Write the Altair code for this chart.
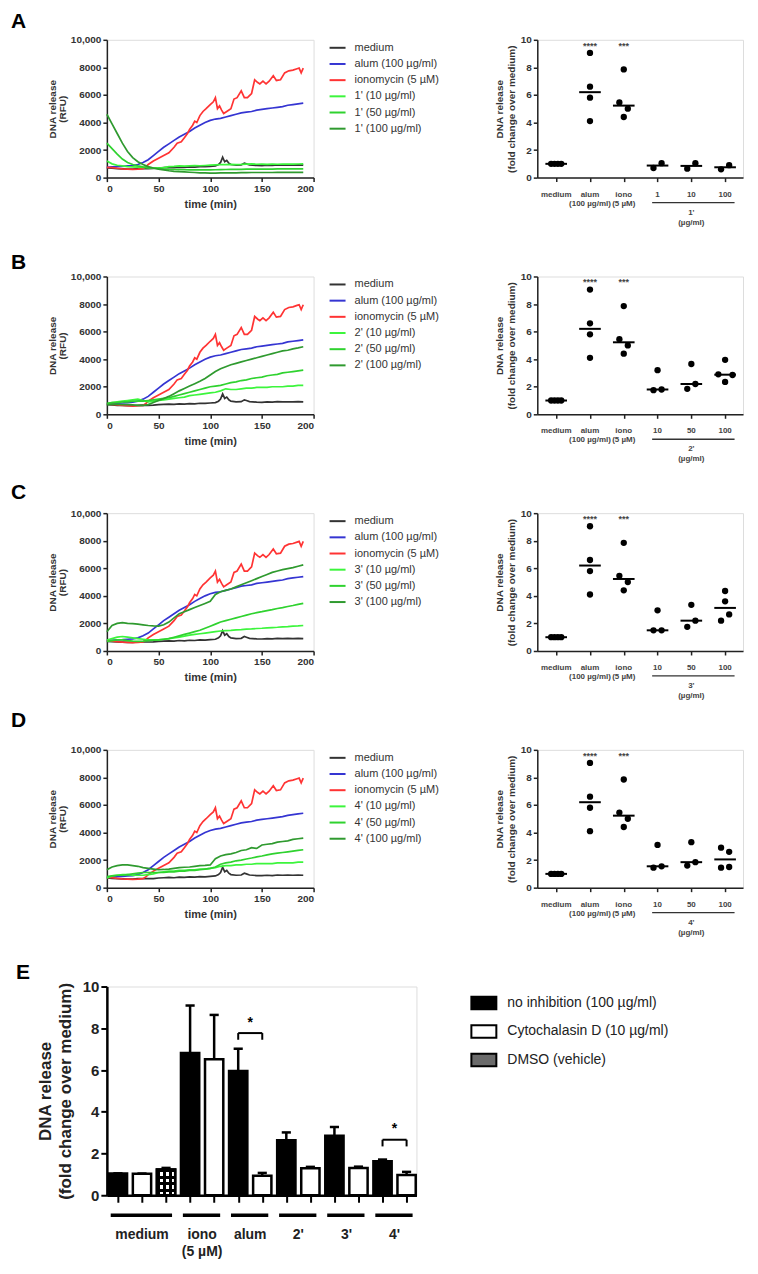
import altair as alt
import pandas as pd

FONT = "Liberation Sans"

# ---------------- time-course data (RFU) ----------------
T = list(range(0, 195, 5))

MEDIUM_T = [0, 5, 10, 15, 20, 25, 30, 35, 40, 45, 50, 55, 60, 65, 70, 75, 80, 85, 90, 95, 100, 105,
            108, 110, 112, 114, 116, 118, 120, 125, 130, 133, 135, 138, 145, 150, 155, 160, 165, 170,
            175, 180, 185, 190]
MEDIUM_V = [700, 680, 650, 640, 620, 620, 650, 660, 650, 660, 700, 720, 740, 720, 760, 740, 780, 760,
            800, 790, 820, 850, 950, 1100, 1480, 1150, 1250, 1050, 950, 900, 920, 1050, 1000, 920,
            880, 870, 900, 880, 920, 900, 910, 900, 920, 900]

ALUM_V = [750, 780, 800, 820, 850, 880, 950, 1100, 1300, 1600, 1900, 2200, 2450, 2700, 2950, 3150,
          3350, 3600, 3800, 4000, 4150, 4250, 4300, 4400, 4500, 4600, 4700, 4750, 4800, 4900, 4950,
          5000, 5050, 5100, 5150, 5250, 5300, 5350, 5400]

IONO_T = [0, 5, 10, 15, 20, 25, 30, 35, 38, 40, 45, 50, 55, 60, 65, 68, 72, 75, 78, 80, 83, 85, 87,
          90, 93, 96, 100, 103, 105, 107, 109, 111, 113, 116, 120, 123, 126, 130, 133, 136, 140, 143,
          146, 148, 151, 154, 157, 161, 164, 168, 172, 176, 180, 184, 186, 188, 190]
IONO_V = [750, 720, 680, 640, 620, 600, 620, 650, 800, 950, 1200, 1400, 1600, 1800, 2200, 2500, 2600,
          2900, 3200, 3500, 3800, 4100, 4000, 4500, 4800, 5000, 5300, 5500, 5800, 5000, 5200, 4900,
          4650, 4800, 5000, 5700, 5800, 6300, 5800, 5800, 6100, 7100, 6900, 6800, 7000, 6800, 7000,
          7400, 7050, 7100, 7600, 7750, 7800, 7900, 7950, 7600, 7950]

C1_10 = [1200, 1000, 900, 850, 800, 780, 760, 740, 720, 710, 700, 720, 800, 820, 850, 830, 850, 870,
         860, 880, 900, 920, 940, 950, 960, 950, 960, 980, 1000, 970, 980, 960, 980, 970, 980, 990,
         980, 990, 1000]
C1_50 = [2500, 2100, 1700, 1350, 1100, 950, 850, 780, 720, 680, 650, 620, 600, 590, 580, 570, 560,
         560, 560, 560, 560, 570, 580, 590, 600, 600, 600, 610, 620, 620, 620, 620, 620, 630, 630,
         630, 630, 630, 630]
C1_100 = [4600, 3900, 3200, 2500, 1900, 1450, 1150, 950, 800, 700, 620, 560, 500, 460, 430, 410, 390,
          370, 350, 340, 330, 330, 340, 350, 350, 350, 360, 360, 370, 370, 370, 370, 370, 380, 380,
          380, 380, 380, 380]

C2_10 = [750, 850, 900, 950, 1000, 1050, 1100, 1000, 900, 950, 1000, 1050, 1100, 1150, 1200, 1250,
         1350, 1400, 1450, 1500, 1550, 1600, 1700, 1850, 1800, 1800, 1850, 1900, 1900, 1950, 1950,
         1950, 2000, 2000, 2000, 2050, 2050, 2100, 2100]
C2_50 = [800, 850, 850, 900, 900, 950, 950, 950, 1000, 1050, 1100, 1150, 1200, 1300, 1400, 1500, 1600,
         1700, 1800, 1900, 2000, 2050, 2100, 2200, 2300, 2350, 2450, 2500, 2600, 2650, 2700, 2800,
         2850, 2900, 3000, 3050, 3100, 3150, 3200]
C2_100 = [700, 720, 720, 700, 700, 680, 650, 650, 700, 850, 1000, 1150, 1300, 1500, 1700, 1880, 2050,
          2220, 2400, 2600, 2850, 3100, 3300, 3450, 3600, 3700, 3800, 3900, 4000, 4100, 4200, 4300,
          4400, 4500, 4600, 4650, 4750, 4820, 4900]

C3_10 = [800, 900, 1000, 1050, 1000, 950, 900, 850, 800, 800, 800, 850, 900, 950, 1000, 1080, 1150,
         1200, 1250, 1300, 1350, 1400, 1450, 1480, 1500, 1530, 1550, 1580, 1600, 1630, 1650, 1680,
         1700, 1720, 1750, 1770, 1800, 1820, 1850]
C3_50 = [700, 750, 800, 800, 750, 720, 700, 720, 750, 780, 800, 850, 900, 1000, 1100, 1200, 1300, 1400,
         1500, 1650, 1800, 1950, 2100, 2200, 2300, 2400, 2500, 2600, 2700, 2780, 2850, 2930, 3000,
         3080, 3150, 3230, 3300, 3380, 3450]
C3_100 = [1400, 1850, 2000, 2050, 2000, 1980, 1950, 1900, 1850, 1820, 1800, 1900, 2100, 2400, 2700,
          2850, 3000, 3150, 3300, 3450, 3600, 4100, 4300, 4400, 4500, 4650, 4800, 4950, 5100, 5250,
          5400, 5550, 5700, 5800, 5900, 5980, 6050, 6150, 6250]

C4_10 = [700, 850, 900, 950, 950, 900, 900, 900, 950, 1000, 1100, 1150, 1200, 1200, 1250, 1250, 1300,
         1300, 1350, 1350, 1400, 1450, 1550, 1600, 1600, 1650, 1650, 1700, 1700, 1750, 1750, 1750,
         1750, 1800, 1800, 1800, 1800, 1850, 1850]
C4_50 = [800, 850, 900, 900, 950, 1000, 1050, 1100, 1100, 1100, 1100, 1100, 1150, 1150, 1200, 1200,
         1250, 1250, 1300, 1350, 1400, 1500, 1700, 1800, 1850, 1950, 2000, 2080, 2150, 2230, 2300,
         2380, 2450, 2500, 2550, 2600, 2650, 2700, 2750]
C4_100 = [1300, 1500, 1600, 1650, 1650, 1600, 1550, 1450, 1400, 1350, 1300, 1320, 1350, 1400, 1450,
          1480, 1500, 1550, 1600, 1620, 1650, 2100, 2300, 2400, 2450, 2550, 2700, 2750, 2900, 2850,
          3100, 3150, 3200, 3300, 3350, 3400, 3500, 3550, 3600]

LINE_COLORS = ["#333333", "#3535d2", "#ff3333", "#3cf53c", "#2fd22f", "#2f9a2f"]

# ---------------- dot-plot data (fold change) ----------------
MED_DOTS = [1.0, 1.0, 1.0, 1.0]
MED_OFF = [-0.15, -0.05, 0.05, 0.15]
ALUM_DOTS = [9.05, 6.6, 5.8, 4.1]
ALUM_OFF = [0, 0, 0, 0]
IONO_DOTS = [7.85, 5.45, 5.0, 4.4]
IONO_OFF = [0, -0.13, 0.12, 0]

A_DOTS = [[0.7, 1.05], [0.65, 1.05], [0.6, 0.9]]
A_OFF = [[-0.12, 0.12], [-0.12, 0.12], [-0.12, 0.12]]
B_DOTS = [[3.2, 1.75, 1.8], [3.65, 1.85, 2.2], [3.95, 2.9, 2.85, 2.35]]
B_OFF = [[0, -0.12, 0.12], [0, -0.12, 0.12], [0, -0.2, 0.22, 0]]
C_DOTS = [[2.95, 1.5, 1.5], [3.35, 1.75, 2.2], [4.35, 3.6, 2.2, 2.65]]
C_OFF = [[0, -0.12, 0.12], [0, -0.12, 0.12], [0, 0, -0.12, 0.12]]
D_DOTS = [[3.1, 1.45, 1.55], [3.3, 1.6, 1.85], [2.9, 2.6, 1.45, 1.5]]
D_OFF = [[0, -0.12, 0.12], [0, -0.12, 0.12], [-0.12, 0.12, -0.12, 0.12]]

# ---------------- bar data (panel E) ----------------
E_TREATS = ["no inhibition (100 µg/ml)", "Cytochalasin D (10 µg/ml)", "DMSO (vehicle)"]
E_SLOT = list(range(13))
E_TREAT = [0, 1, 2, 0, 1, 0, 1, 0, 1, 0, 1, 0, 1]
E_MEAN = [1.04, 1.03, 1.23, 6.81, 6.52, 5.95, 0.93, 2.63, 1.29, 2.85, 1.31, 1.63, 0.97]
E_TOP = [1.05, 1.04, 1.31, 9.09, 8.64, 7.02, 1.07, 3.01, 1.36, 3.27, 1.37, 1.71, 1.12]
E_GROUPS = ["medium", "iono", "alum", "2'", "3'", "4'"]
E_GROUP_SUB = ["", "(5 µM)", "", "", "", ""]
E_G_FIRST = [0, 3, 5, 7, 9, 11]
E_G_LAST = [2, 4, 6, 8, 10, 12]
BR_A = [5, 11]
BR_B = [6, 12]
BR_Y = [7.77, 2.66]
BR_LOW = [7.45, 2.34]
BR_STAR = [8.25, 3.15]

LW, LH = 207, 138
DW, DH = 206, 138
EW, EH = 310, 209


def axis_style(**kw):
    base = dict(labelFont=FONT, titleFont=FONT, labelFontWeight="bold", titleFontWeight="bold",
                labelColor="#333333", titleColor="#333333", domainColor="#222222",
                tickColor="#222222", domainWidth=1.5, tickWidth=1.5, tickSize=4, labelFontSize=10,
                titleFontSize=10, grid=False, labelPadding=2)
    base.update(kw)
    return alt.Axis(**base)


def letter_layer(letter, x, y):
    return alt.Chart(pd.DataFrame({"l": [letter]})).mark_text(
        align="left", baseline="top", fontSize=21, fontWeight="bold", font=FONT, color="black"
    ).encode(x=alt.value(x), y=alt.value(y), text="l:N")


def line_panel(letter, letter_y, comp, series):
    names = ["medium", "alum (100 µg/ml)", "ionomycin (5 µM)",
             f"{comp} (10 µg/ml)", f"{comp} (50 µg/ml)", f"{comp} (100 µg/ml)"]
    rows = []
    for t, v in zip(MEDIUM_T, MEDIUM_V):
        rows.append({"t": t, "v": v, "s": names[0]})
    for t, v in zip(T, ALUM_V):
        rows.append({"t": t, "v": v, "s": names[1]})
    for t, v in zip(IONO_T, IONO_V):
        rows.append({"t": t, "v": v, "s": names[2]})
    for k, ser in enumerate(series):
        for t, v in zip(T, ser):
            rows.append({"t": t, "v": v, "s": names[3 + k]})
    df = pd.DataFrame(rows)
    lines = alt.Chart(df).mark_line(strokeWidth=1.7).encode(
        x=alt.X("t:Q", scale=alt.Scale(domain=[0, 200], nice=False),
                axis=axis_style(values=[0, 50, 100, 150, 200], title="time (min)",
                                titleFontSize=11, titlePadding=5)),
        y=alt.Y("v:Q", scale=alt.Scale(domain=[0, 10000], nice=False),
                axis=axis_style(values=[0, 2000, 4000, 6000, 8000, 10000],
                                labelExpr="datum.value == 10000 ? '10,000' : '' + datum.value",
                                title=["DNA release", "(RFU)"], titleLineHeight=10,
                                titlePadding=3)),
        color=alt.Color("s:N", scale=alt.Scale(domain=names, range=LINE_COLORS),
                        legend=alt.Legend(orient="none", legendX=222, legendY=-1, title=None,
                                          symbolType="stroke", symbolSize=256,
                                          symbolStrokeWidth=2, labelFontSize=11, labelFont=FONT,
                                          labelColor="#333333", labelOffset=8, rowPadding=2.2,
                                          padding=0, labelLimit=300)),
    )
    return alt.layer(lines, letter_layer(letter, -96, letter_y)).properties(width=LW, height=LH)


def dot_panel(comp, first_labels, dots, offs):
    labels1 = ["medium", "alum", "iono"] + first_labels
    labels2 = ["", "(100 µg/ml)", "(5 µM)", "", "", ""]
    values = [MED_DOTS, ALUM_DOTS, IONO_DOTS] + dots
    offsets = [MED_OFF, ALUM_OFF, IONO_OFF] + offs
    rows = []
    for g, (vs, os) in enumerate(zip(values, offsets)):
        for v, o in zip(vs, os):
            rows.append({"g": g, "val": v, "x": g + o})
    df = pd.DataFrame(rows)
    xs = alt.Scale(domain=[-0.56, 5.53], nice=False, zero=False)
    ys = alt.Scale(domain=[0, 10], nice=False)
    ax_x = axis_style(values=[0, 1, 2, 3, 4, 5], labels=False, title=None, tickSize=4)
    ax_y = axis_style(values=[0, 2, 4, 6, 8, 10], title=["DNA release", "(fold change over medium)"],
                      titleLineHeight=12, titlePadding=4)

    def X(f):
        return alt.X(f, scale=xs, axis=ax_x)

    def Y(f):
        return alt.Y(f, scale=ys, axis=ax_y)

    pts = alt.Chart(df).mark_circle(size=40, color="black", opacity=1).encode(
        x=X("x:Q"), y=Y("val:Q"))
    med = alt.Chart(df).transform_aggregate(
        m="median(val)", groupby=["g"]
    ).transform_calculate(a="datum.g - 0.32", b="datum.g + 0.32").mark_rule(
        color="black", strokeWidth=2
    ).encode(x=X("a:Q"), x2="b:Q", y=Y("m:Q"))
    lab_df = pd.DataFrame({"g": list(range(6)), "l1": labels1, "l2": labels2})
    txt = dict(fontSize=8, fontWeight="bold", font=FONT, color="#444444", baseline="middle")
    lab1 = alt.Chart(lab_df).mark_text(**txt).encode(
        x=X("g:Q"), y=alt.value(DH + 17), text="l1:N")
    lab2 = alt.Chart(lab_df).mark_text(**txt).encode(
        x=X("g:Q"), y=alt.value(DH + 26), text="l2:N")
    star_df = pd.DataFrame({"g": [1, 2], "s": ["****", "***"]})
    stars = alt.Chart(star_df).mark_text(fontSize=9, fontWeight="bold", font=FONT,
                                         color="#444444", baseline="middle").encode(
        x=X("g:Q"), y=alt.value(6), text="s:N")
    span_df = pd.DataFrame({"first": [3], "last": [5], "mid": [4], "n1": [comp],
                            "n2": ["(µg/ml)"]})
    under = alt.Chart(span_df).transform_calculate(
        a="datum.first - 0.16", b="datum.last + 0.28"
    ).mark_rule(color="#333333", strokeWidth=1.3).encode(
        x=X("a:Q"), x2="b:Q", y=alt.value(DH + 25))
    cn1 = alt.Chart(span_df).mark_text(**txt).encode(
        x=X("mid:Q"), y=alt.value(DH + 35), text="n1:N")
    cn2 = alt.Chart(span_df).mark_text(**txt).encode(
        x=X("mid:Q"), y=alt.value(DH + 45), text="n2:N")
    return alt.layer(pts, med, lab1, lab2, stars, under, cn1, cn2).properties(width=DW, height=DH)


def stripes(n, frac, vertical):
    stops = []
    clear = "rgba(0,0,0,0)"
    for i in range(n):
        s = i / n
        m = s + frac / n
        e = (i + 1) / n
        stops += [alt.GradientStop(offset=s, color="black"),
                  alt.GradientStop(offset=m, color="black"),
                  alt.GradientStop(offset=m, color=clear),
                  alt.GradientStop(offset=e, color=clear)]
    if vertical:
        return alt.Gradient(gradient="linear", stops=stops, x1=0, x2=0, y1=0, y2=1)
    return alt.Gradient(gradient="linear", stops=stops, x1=0, x2=1, y1=0, y2=0)


def bar_panel():
    df = pd.DataFrame({"slot": E_SLOT, "treat": [E_TREATS[i] for i in E_TREAT],
                       "mean": E_MEAN, "top": E_TOP})
    xs = alt.Scale(domain=[-0.46, 12.41], nice=False, zero=False)
    ys = alt.Scale(domain=[0, 10], nice=False)
    ax_x = axis_style(values=E_SLOT, labels=False, title=None, tickSize=7, domainWidth=2.5,
                      tickWidth=2, domainColor="black", tickColor="black")
    ax_y = axis_style(values=[0, 2, 4, 6, 8, 10], labelFontSize=15, titleFontSize=17,
                      title=["DNA release", "(fold change over medium)"], titleLineHeight=20,
                      titlePadding=8, domainWidth=2.5, tickWidth=2, tickSize=6,
                      domainColor="black", tickColor="black", labelColor="#222222",
                      titleColor="#222222")

    def X(f):
        return alt.X(f, scale=xs, axis=ax_x)

    def Y(f):
        return alt.Y(f, scale=ys, axis=ax_y)

    base = alt.Chart(df).transform_calculate(a="datum.slot - 0.38", b="datum.slot + 0.38")
    bars = base.mark_bar(stroke="black", strokeWidth=2.5).encode(
        x=X("a:Q"), x2="b:Q", y=Y("mean:Q"), y2=alt.datum(0),
        fill=alt.Fill("treat:N", scale=alt.Scale(domain=E_TREATS, range=["black", "white", "#6a6a6a"]),
                      legend=alt.Legend(orient="none", legendX=364, legendY=3, title=None,
                                        symbolType="M-1,-0.5H1V0.5H-1Z", symbolSize=625,
                                        symbolStrokeColor="black", symbolStrokeWidth=2,
                                        labelFontSize=14, labelFont=FONT, labelColor="#222222",
                                        labelOffset=10, rowPadding=4.5, padding=0,
                                        labelLimit=300)),
    )
    dmso = base.transform_filter(alt.datum.treat == E_TREATS[2])
    d_white = dmso.mark_bar(fill="white", strokeWidth=0).encode(
        x=X("a:Q"), x2="b:Q", y=Y("mean:Q"), y2=alt.datum(0))
    d_v = dmso.mark_bar(fill=stripes(3, 0.45, False), strokeWidth=0).encode(
        x=X("a:Q"), x2="b:Q", y=Y("mean:Q"), y2=alt.datum(0))
    d_h = dmso.mark_bar(fill=stripes(4, 0.45, True), strokeWidth=0).encode(
        x=X("a:Q"), x2="b:Q", y=Y("mean:Q"), y2=alt.datum(0))
    d_out = dmso.mark_bar(fillOpacity=0, stroke="black", strokeWidth=2.5).encode(
        x=X("a:Q"), x2="b:Q", y=Y("mean:Q"), y2=alt.datum(0))
    err_v = alt.Chart(df).mark_rule(color="black", strokeWidth=2.5).encode(
        x=X("slot:Q"), y=Y("mean:Q"), y2="top:Q")
    err_c = alt.Chart(df).transform_calculate(
        a="datum.slot - 0.19", b="datum.slot + 0.19"
    ).mark_rule(color="black", strokeWidth=2.5).encode(x=X("a:Q"), x2="b:Q", y=Y("top:Q"))

    br_df = pd.DataFrame({"a": BR_A, "b": BR_B, "y": BR_Y, "low": BR_LOW, "star": BR_STAR,
                          "s": ["*", "*"]})
    br_h = alt.Chart(br_df).mark_rule(color="black", strokeWidth=2).encode(
        x=X("a:Q"), x2="b:Q", y=Y("y:Q"))
    br_l = alt.Chart(br_df).mark_rule(color="black", strokeWidth=2).encode(
        x=X("a:Q"), y=Y("low:Q"), y2="y:Q")
    br_r = alt.Chart(br_df).mark_rule(color="black", strokeWidth=2).encode(
        x=X("b:Q"), y=Y("low:Q"), y2="y:Q")
    br_s = alt.Chart(br_df).transform_calculate(m="(datum.a + datum.b) / 2").mark_text(
        fontSize=14, fontWeight="bold", font=FONT, baseline="middle", color="black"
    ).encode(x=X("m:Q"), y=Y("star:Q"), text="s:N")

    g_df = pd.DataFrame({"name": E_GROUPS, "sub": E_GROUP_SUB, "first": E_G_FIRST,
                         "last": E_G_LAST})
    g_base = alt.Chart(g_df).transform_calculate(
        a="datum.first - 0.3", b="datum.last + 0.25", m="(datum.first + datum.last) / 2")
    g_line = g_base.mark_rule(color="black", strokeWidth=3.5).encode(
        x=X("a:Q"), x2="b:Q", y=alt.value(EH + 20))
    gtxt = dict(fontSize=14, fontWeight="bold", font=FONT, color="#222222", baseline="middle")
    g_lab = g_base.mark_text(**gtxt).encode(x=X("m:Q"), y=alt.value(EH + 40), text="name:N")
    g_sub = g_base.mark_text(**gtxt).encode(x=X("m:Q"), y=alt.value(EH + 57), text="sub:N")

    return alt.layer(bars, d_white, d_v, d_h, d_out, err_v, err_c, br_h, br_l, br_r, br_s,
                     g_line, g_lab, g_sub, letter_layer("E", -91, -25)).properties(width=EW, height=EH)


panels = [
    line_panel("A", -29, "1'", [C1_10, C1_50, C1_100]),
    dot_panel("1'", ["1", "10", "100"], A_DOTS, A_OFF),
    line_panel("B", -24, "2'", [C2_10, C2_50, C2_100]),
    dot_panel("2'", ["10", "50", "100"], B_DOTS, B_OFF),
    line_panel("C", -31, "3'", [C3_10, C3_50, C3_100]),
    dot_panel("3'", ["10", "50", "100"], C_DOTS, C_OFF),
    line_panel("D", -40, "4'", [C4_10, C4_50, C4_100]),
    dot_panel("4'", ["10", "50", "100"], D_DOTS, D_OFF),
    bar_panel(),
]

chart = alt.concat(
    *panels, columns=2, spacing={"row": 99, "column": 121}, bounds="flush",
    align={"row": "each", "column": "all"}
).resolve_scale(color="independent", fill="independent").properties(
    padding={"left": 2, "top": 1, "right": 6, "bottom": 6}
).configure_view(strokeWidth=0).configure(font=FONT, background="white")

chart.save("out.html", embed_options={"renderer": "svg", "actions": False})
